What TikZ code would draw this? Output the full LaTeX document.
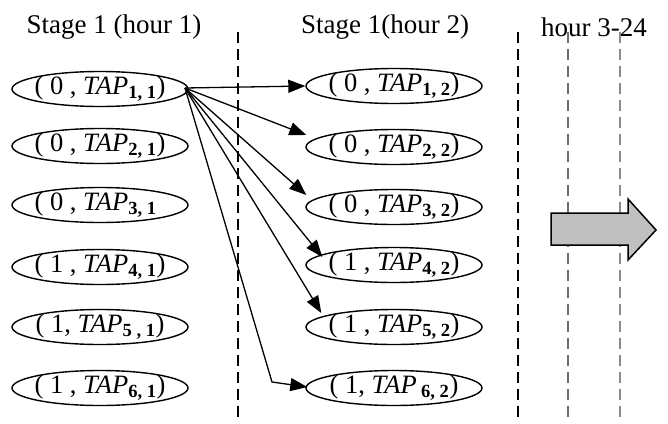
\documentclass[tikz,border=0pt]{standalone}
\usepackage{fontspec}
\setmainfont{Liberation Serif}
\usetikzlibrary{arrows.meta,shapes.geometric}
\begin{document}
\begin{tikzpicture}[x=1pt,y=-1pt,
  state/.style={ellipse,draw,line width=1.4pt,minimum width=176pt,minimum height=35pt,inner sep=0pt},
  lab/.style={inner sep=0pt,font=\fontsize{26.5}{30}\selectfont},
  title/.style={inner sep=0pt,font=\fontsize{27}{30}\selectfont},
  divider/.style={line width=1.8pt,dash pattern=on 11pt off 6pt},
  link/.style={line width=1.3pt,-{Triangle[length=17pt,width=13pt]}},
  bigarrow/.style={fill={rgb,255:red,192;green,192;blue,192},draw=black,line width=1.5pt,line join=miter}]
\useasboundingbox (0,0) rectangle (668,423);
\newcommand{\tapsub}[1]{\textit{TAP}\textsubscript{\textbf{#1}}}
% titles
\node[title] (t1) at (114,27) {Stage 1 (hour 1)};
\node[title] (t2) at (385,27) {Stage 1(hour 2)};
\node[title] (t3) at (594,27) {hour 3-24};
% dividers
\coordinate (d1a) at (238,32); \coordinate (d1b) at (238,423);
\coordinate (d2a) at (518,32); \coordinate (d2b) at (518,423);
\coordinate (d3a) at (568,32); \coordinate (d3b) at (568,423);
\coordinate (d4a) at (620,32); \coordinate (d4b) at (620,423);
\draw[divider] (d1a) -- (d1b);
\draw[divider] (d2a) -- (d2b);
\draw[divider,draw={rgb,255:red,110;green,110;blue,110}] (d3a) -- (d3b);
\draw[divider,draw={rgb,255:red,140;green,140;blue,140}] (d4a) -- (d4b);
% big arrow
\draw[bigarrow] (551,213) -- (628,213) -- (628,199) -- (656,230) -- (628,260) -- (628,245) -- (551,245) -- cycle;
% left column
\node[state,label={[lab]center:( 0 , \tapsub{1, 1})}] (L1) at (100,89) {};
\node[state,label={[lab]center:( 0 , \tapsub{2, 1})}] (L2) at (100,146) {};
\node[state,label={[lab]center:( 0 , \tapsub{3, 1}\phantom{)}}] (L3) at (100,205) {};
\node[state,label={[lab]center:( 1 , \tapsub{4, 1})}] (L4) at (100,267) {};
\node[state,label={[lab]center:( 1, \tapsub{5 , 1})}] (L5) at (100,327) {};
\node[state,label={[lab]center:( 1 , \tapsub{6, 1})}] (L6) at (100,388) {};
% right column
\node[state,label={[lab]center:( 0 , \tapsub{1, 2})}] (R1) at (394,86) {};
\node[state,label={[lab]center:( 0 , \tapsub{2, 2})}] (R2) at (394,147) {};
\node[state,label={[lab]center:( 0 , \tapsub{3, 2})}] (R3) at (394,207) {};
\node[state,label={[lab]center:( 1 , \tapsub{4, 2})}] (R4) at (394,265) {};
\node[state,label={[lab]center:( 1 , \tapsub{5, 2})}] (R5) at (394,327) {};
\node[state,label={[lab]center:( 1, \textit{TAP}\,\textsubscript{\textbf{6, 2}})}] (R6) at (394,388) {};
% connectors
\coordinate (src) at (185,88);
\coordinate (bend) at (272,382);
\draw[link] (src) -- (R1.west);
\draw[link] (src) -- ([shift={(1,-12)}]R2.west);
\draw[link] (src) -- ([shift={(1,-12)}]R3.west);
\draw[link] (src) -- ([shift={(17,-8)}]R4.west);
\draw[link] (src) -- ([shift={(16,-14)}]R5.west);
\draw[link] (src) -- (bend) -- ([shift={(2,-1)}]R6.west);
\end{tikzpicture}
\end{document}
